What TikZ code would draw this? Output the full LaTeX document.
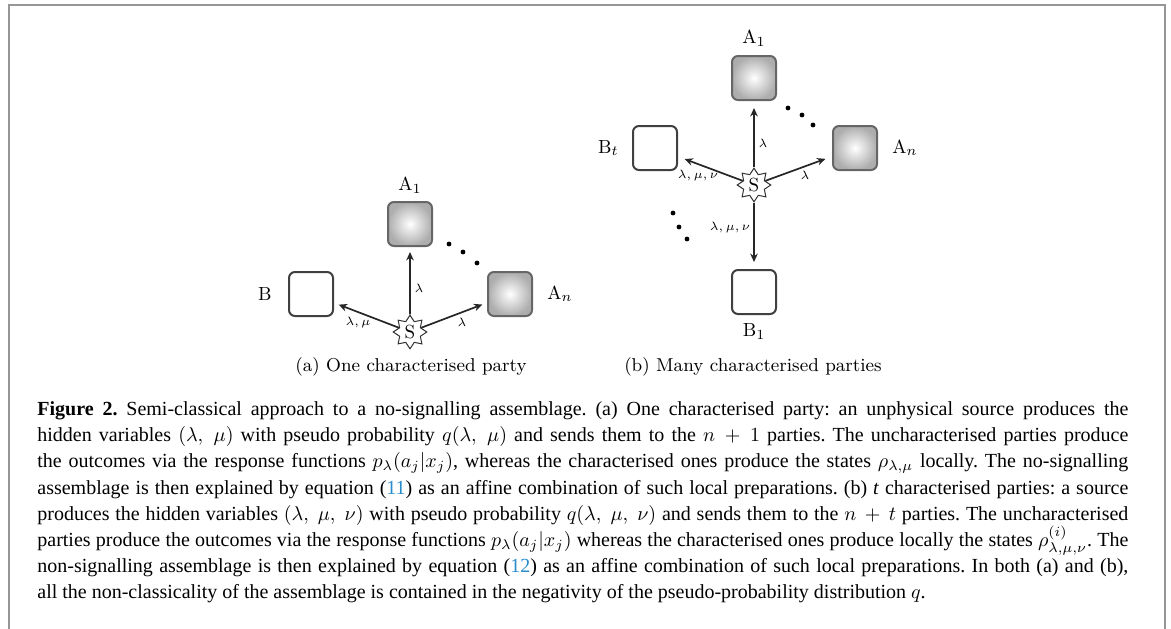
\documentclass[tikz,border=0pt]{standalone}
\usepackage{fontspec}
\newfontfamily\capfont{Liberation Serif}
\usetikzlibrary{positioning, shapes.geometric, arrows.meta}

\definecolor{linkblue}{RGB}{40,140,205}
\definecolor{framegray}{RGB}{150,150,150}
\newcommand{\capline}[1]{\makebox[545.5pt][s]{#1}}
\frenchspacing

\begin{document}
\begin{tikzpicture}[
					x=0.5pt, y=-0.5pt,
					node distance=54pt,
					party/.style={draw=black!75, line width=1pt, rounded corners=3pt, minimum size=22pt, fill=white},
					chparty/.style={party, draw=black!60, inner color=white, outer color=black!32},
					source/.style={star, star points=8, star point ratio=1.5, draw=black!80, fill=white, line width=0.5pt, inner sep=0.5pt, minimum size=15.5pt, font=\fontsize{9.5}{10}\selectfont},
					partylabel/.style={inner sep=1pt, font=\fontsize{9.5}{10}\selectfont},
					flow/.style={-{Stealth[length=4.2pt,width=3.8pt]}, line width=0.85pt, draw=black!85, shorten >=2.5pt},
					hv/.style={inner sep=0.5pt, font=\fontsize{6.5}{7}\selectfont},
					dot/.style={circle, fill=black, inner sep=0pt, minimum size=2.4pt},
					subcap/.style={inner sep=1pt, font=\fontsize{9.3}{10}\selectfont},
					capline/.style={anchor=base west, inner sep=0pt, font=\capfont\fontsize{10}{13}\selectfont}
					]
					\useasboundingbox (0,0) rectangle (1171,628);
					% Frame
					\draw[framegray, line width=1pt] (9,650) -- (9,5) -- (1165,5) -- (1165,650);
					
					% (a) one characterised party
					\node[source] (Sa) at (410,332) {S};
					\node[chparty, above of=Sa] (A1a) {};
					\node[party] (Ba) at (311,294) {};
					\node[chparty] (Ana) at (510,294) {};
					\node[partylabel, above=2.5pt of A1a] (A1la) {$\mathrm{A}_1$};
					\node[partylabel, left=7pt of Ba] (Bla) {B};
					\node[partylabel, right=6pt of Ana] (Anla) {$\mathrm{A}_n$};
					
					\draw[flow] (Sa) -- (A1a);
					\draw[flow] (Sa) -- (Ba);
					\draw[flow] (Sa) -- (Ana);
					
					\node[hv] (la1) at (419,288) {$\lambda$};
					\node[hv] (laB) at (358,322) {$\lambda, \mu$};
					\node[hv] (laAn) at (462,322) {$\lambda$};
					
					\foreach \x/\y [count=\i] in {449/244, 463/252, 477/263}
						\node[dot] (dota\i) at (\x,\y) {};
					
					\node[subcap] (capa) at (411,367) {(a) One characterised party};
					
					% (b) many characterised parties
					\node[source] (Sb) at (754,185) {S};
					\node[chparty, above of=Sb, node distance=53.5pt] (A1b) {};
					\node[party, below of=Sb, node distance=53.5pt] (B1b) {};
					\node[party] (Btb) at (655,148) {};
					\node[chparty] (Anb) at (855,148) {};
					\node[partylabel, above=3pt of A1b] (A1lb) {$\mathrm{A}_1$};
					\node[partylabel, below=3pt of B1b] (B1lb) {$\mathrm{B}_1$};
					\node[partylabel, left=5.5pt of Btb] (Btlb) {$\mathrm{B}_t$};
					\node[partylabel, right=6pt of Anb] (Anlb) {$\mathrm{A}_n$};
					
					\draw[flow, shorten >=3.5pt] (Sb) -- (A1b);
					\draw[flow, shorten >=3.5pt] (Sb) -- (Btb);
					\draw[flow, shorten >=3.5pt] (Sb) -- (Anb);
					\draw[flow, shorten >=3.5pt] (Sb) -- (B1b);
					
					\node[hv] (lb1) at (763,143) {$\lambda$};
					\node[hv] (lbBt) at (698,175) {$\lambda, \mu, \nu$};
					\node[hv] (lbAn) at (805,175) {$\lambda$};
					\node[hv] (lbB1) at (730,227) {$\lambda, \mu, \nu$};
					
					\foreach \x/\y [count=\i] in {788/108, 802/115, 813/125}
						\node[dot] (dotb\i) at (\x,\y) {};
					\foreach \x/\y [count=\i] in {673/213, 679/227, 687/239}
						\node[dot] (dotc\i) at (\x,\y) {};
					
					\node[subcap] (capb) at (753,367) {(b) Many characterised parties};
					
					% Caption
					\node[capline] (cap1) at (37,415) {\capline{\textbf{Figure 2.} Semi-classical approach to a no-signalling assemblage. (a) One characterised party: an unphysical source produces the}};
					\node[capline] (cap2) at (37,441) {\capline{hidden variables $(\lambda,\ \mu)$ with pseudo probability $q(\lambda,\ \mu)$ and sends them to the $n\,+\,1$ parties. The uncharacterised parties produce}};
					\node[capline] (cap3) at (37,467.5) {\capline{the outcomes via the response functions $p_\lambda(a_j|x_j)$, whereas the characterised ones produce the states $\rho_{\lambda,\mu}$ locally. The no-signalling}};
					\node[capline] (cap4) at (37,494) {\capline{assemblage is then explained by equation (\textcolor{linkblue}{11}) as an affine combination of such local preparations. (b) \textit{t} characterised parties: a source}};
					\node[capline] (cap5) at (37,520) {\capline{produces the hidden variables $(\lambda,\ \mu,\ \nu)$ with pseudo probability $q(\lambda,\ \mu,\ \nu)$ and sends them to the $n\,+\,t$ parties. The uncharacterised}};
					\node[capline] (cap6) at (37,546.5) {\capline{parties produce the outcomes via the response functions $p_\lambda(a_j|x_j)$ whereas the characterised ones produce locally the states $\rho^{(i)}_{\lambda,\mu,\nu}$. The}};
					\node[capline] (cap7) at (37,572) {\capline{non-signalling assemblage is then explained by equation (\textcolor{linkblue}{12}) as an affine combination of such local preparations. In both (a) and (b),}};
					\node[capline] (cap8) at (37,598) {all the non-classicality of the assemblage is contained in the negativity of the pseudo-probability distribution $q$.};
				\end{tikzpicture}
\end{document}
